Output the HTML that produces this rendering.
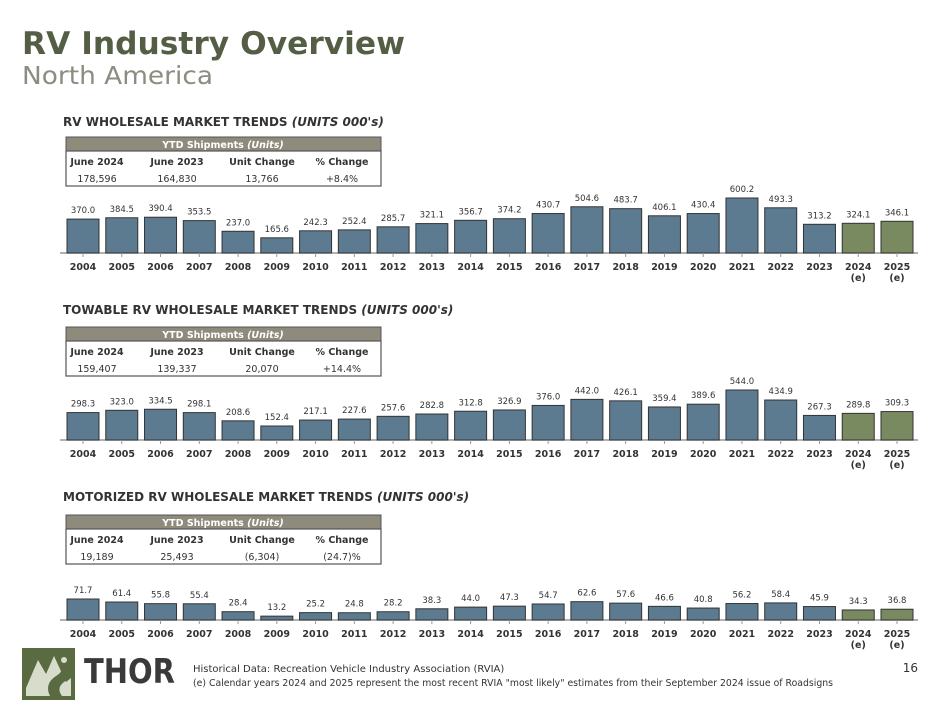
<!DOCTYPE html>
<html><head><meta charset="utf-8"><style>
body{margin:0;background:#fff;width:950px;height:713px;overflow:hidden}
svg{display:block}
text{font-family:"DejaVu Sans","Liberation Sans",sans-serif}
</style></head><body>
<svg id="s" width="950" height="713" viewBox="0 0 950 713">
<text x="22" y="54" font-size="31" font-weight="bold" fill="#545e45" textLength="383" lengthAdjust="spacingAndGlyphs">RV Industry Overview</text>
<text x="22" y="84" font-size="25" fill="#8c8c80" textLength="191" lengthAdjust="spacingAndGlyphs" font-family="Liberation Sans">North America</text>
<g id="charts"></g>
<g>
<rect x="22" y="648" width="53" height="52" fill="#5a6b41"/>
<path d="M26 688 L38 660 L46 674 L54 656 L66 682 L71 678 L71 696 L26 696Z" fill="#d8dccb"/>
<path d="M50 696 Q44 684 56 676 Q66 670 60 662 L70 664 Q74 676 64 682 Q56 688 62 696Z" fill="#5a6b41"/>
<circle cx="64" cy="660" r="3" fill="#d8dccb"/>
<text x="84" y="683" font-size="34" font-weight="bold" fill="#3a3a3a" font-family="Liberation Sans" textLength="91" lengthAdjust="spacingAndGlyphs">THOR</text>
</g>
<text x="193" y="672" font-size="10" fill="#333" font-family="Liberation Sans">Historical Data: Recreation Vehicle Industry Association (RVIA)</text>
<text x="193" y="686" font-size="10" fill="#333" font-family="Liberation Sans" textLength="640" lengthAdjust="spacingAndGlyphs">(e) Calendar years 2024 and 2025 represent the most recent RVIA "most likely" estimates from their September 2024 issue of Roadsigns</text>
<text x="918" y="672" font-size="12" fill="#333" text-anchor="end" font-family="Liberation Sans">16</text>
</svg>
<script>
const years=["2004","2005","2006","2007","2008","2009","2010","2011","2012","2013","2014","2015","2016","2017","2018","2019","2020","2021","2022","2023","2024","2025"];
const estimateYears=["2024","2025"];
const totalValues=[370.0,384.5,390.4,353.5,237.0,165.6,242.3,252.4,285.7,321.1,356.7,374.2,430.7,504.6,483.7,406.1,430.4,600.2,493.3,313.2,324.1,346.1];
const towableValues=[298.3,323.0,334.5,298.1,208.6,152.4,217.1,227.6,257.6,282.8,312.8,326.9,376.0,442.0,426.1,359.4,389.6,544.0,434.9,267.3,289.8,309.3];
const motorizedValues=[71.7,61.4,55.8,55.4,28.4,13.2,25.2,24.8,28.2,38.3,44.0,47.3,54.7,62.6,57.6,46.6,40.8,56.2,58.4,45.9,34.3,36.8];
const tableHeaders=["June 2024","June 2023","Unit Change","% Change"];
const totalYtd=["178,596","164,830","13,766","+8.4%"];
const towableYtd=["159,407","139,337","20,070","+14.4%"];
const motorizedYtd=["19,189","25,493","(6,304)","(24.7)%"];
const NS="http://www.w3.org/2000/svg";
const root=document.getElementById('charts');
function mk(tag,attrs,parent,txt){const e=document.createElementNS(NS,tag);for(const k in attrs)e.setAttribute(k,attrs[k]);if(txt!==undefined)e.textContent=txt;parent.appendChild(e);return e;}
function section(o){
 const g=mk('g',{},root);
 
 
 const t=mk('text',{x:63,y:o.titleY,'font-size':12,'font-weight':'bold',fill:'#333'},g);
 
 
 mk('tspan',{},t,o.title+' ');
 mk('tspan',{'font-style':'italic'},t,"(UNITS 000's)");
 const ty=o.tableY;
 const tb=mk('g',{},g);
 
 
 mk('rect',{x:66,y:ty,width:315,height:14,fill:'#8e8b7c',stroke:'#555','stroke-width':1},tb);
 const h=mk('text',{x:223,y:ty+11,'font-size':9.5,'font-weight':'bold',fill:'#fff','text-anchor':'middle'},tb);
 mk('tspan',{},h,'YTD Shipments ');mk('tspan',{'font-style':'italic'},h,'(Units)');
 mk('rect',{x:66,y:ty+14,width:315,height:35,fill:'#fff',stroke:'#555','stroke-width':1.2},tb);
 const cx=[97,177,262,342];
 tableHeaders.forEach((hd,i)=>{
  const c=mk('text',{x:cx[i],y:ty+28,'font-size':9.5,'font-weight':'bold',fill:'#333','text-anchor':'middle'},tb,hd);
  
  
  const v=mk('text',{x:cx[i],y:ty+45,'font-size':9.5,fill:'#333','text-anchor':'middle'},tb,o.ytd[i]);
  
  
 });
 const base=o.baseY, maxV=Math.max(...o.values);
 const yScale=v=>base-v/maxV*o.maxH;
 const xCenter=i=>83+i*(897-83)/(years.length-1);
 mk('line',{x1:60,x2:918,y1:base,y2:base,stroke:'#999','stroke-width':1.5},g);
 o.values.forEach((v,i)=>{
  const est=estimateYears.includes(years[i]);
  const y=yScale(v);
  const b=mk('rect',{x:xCenter(i)-16,y:y,width:32,height:base-y,fill:est?'#7a8a60':'#5c7b90',stroke:'#333','stroke-width':1},g);
  
  
  const l=mk('text',{x:xCenter(i),y:y-6,'font-size':8.5,fill:'#333','text-anchor':'middle'},g,v.toFixed(1));
  
  
  mk('line',{x1:xCenter(i),x2:xCenter(i),y1:base,y2:base+4,stroke:'#999'},g);
  const yl=mk('text',{x:xCenter(i),y:base+17,'font-size':9.5,'font-weight':'bold',fill:'#333','text-anchor':'middle'},g,years[i]);
  
  
  if(est){const e=mk('text',{x:xCenter(i),y:base+28,'font-size':9.5,'font-weight':'bold',fill:'#333','text-anchor':'middle'},g,'(e)');
   
   }
 });
}
section({name:'rv-wholesale-chart',title:'RV WHOLESALE MARKET TRENDS',titleY:126,tableY:137,ytd:totalYtd,values:totalValues,baseY:253,maxH:55});
section({name:'towable-wholesale-chart',title:'TOWABLE RV WHOLESALE MARKET TRENDS',titleY:314,tableY:327,ytd:towableYtd,values:towableValues,baseY:440,maxH:50});
section({name:'motorized-wholesale-chart',title:'MOTORIZED RV WHOLESALE MARKET TRENDS',titleY:501,tableY:515,ytd:motorizedYtd,values:motorizedValues,baseY:620,maxH:21});
</script>
</body></html>
